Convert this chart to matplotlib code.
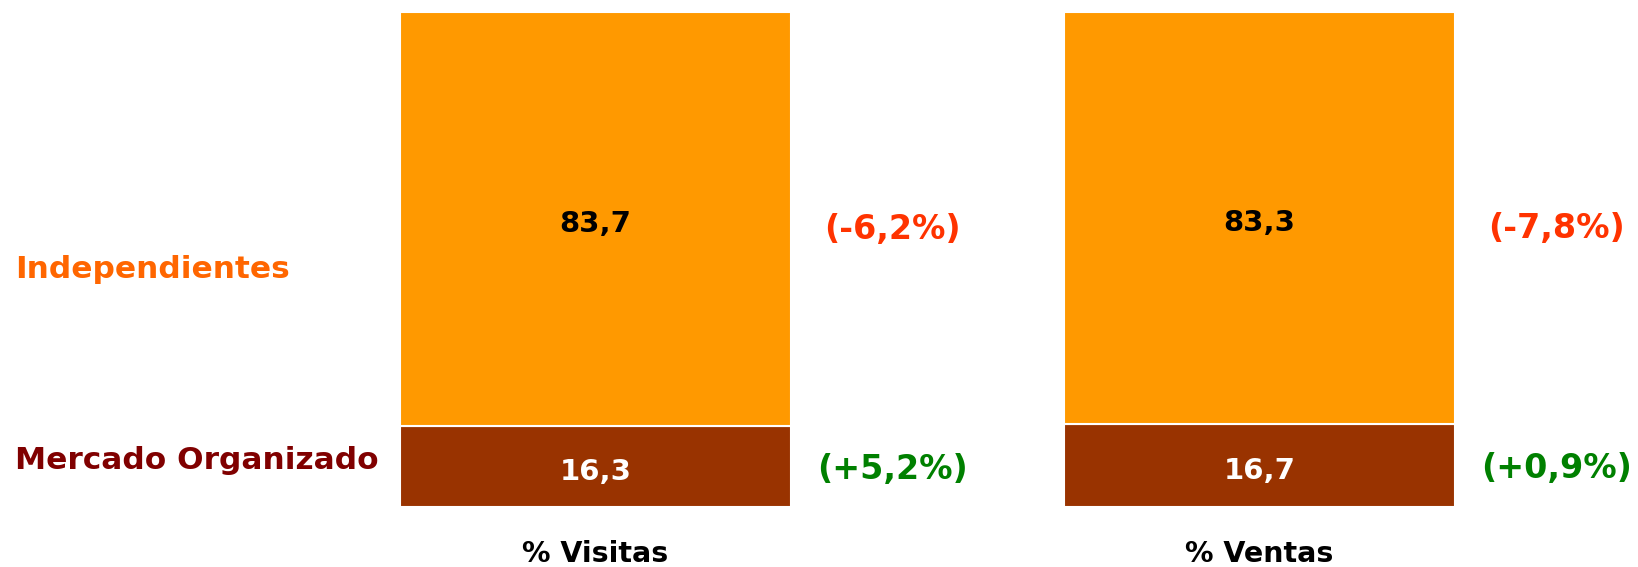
import matplotlib.pyplot as plt
import numpy as np

# Data
categorias = ["% Visitas", "% Ventas"]
mercado = [16.3, 16.7]          # Mercado Organizado
independientes = [83.7, 83.3]   # Independientes
var_mercado = ["(+5,2%)", "(+0,9%)"]
var_indep = ["(-6,2%)", "(-7,8%)"]
valor_fmt = lambda v: ("%.1f" % v).replace(".", ",")

plt.rcParams['font.family'] = ['DejaVu Sans']

fig = plt.figure(figsize=(16.38, 5.67), dpi=100)
ax = fig.add_axes([0, 60 / 567, 1, 495 / 567])

x = np.arange(len(categorias))
w = 0.589

ax.bar(x, mercado, w, color="#993300", edgecolor="white", linewidth=1.5)
ax.bar(x, independientes, w, bottom=mercado, color="#FF9900", edgecolor="white", linewidth=1.5)

for i in range(len(x)):
    ax.text(x[i], mercado[i] / 2 - 1, valor_fmt(mercado[i]), ha="center", va="center",
            color="white", fontsize=21, fontweight="bold")
    ax.text(x[i], mercado[i] + independientes[i] / 2 - 1, valor_fmt(independientes[i]),
            ha="center", va="center", color="black", fontsize=21, fontweight="bold")
    ax.text(x[i] + 0.447, mercado[i] / 2 - 0.5, var_mercado[i], ha="center", va="center",
            color="#008000", fontsize=24, fontweight="bold")
    ax.text(x[i] + 0.447, mercado[i] + independientes[i] / 2 - 2, var_indep[i], ha="center",
            va="center", color="#FF3300", fontsize=24, fontweight="bold")
    ax.text(x[i], -9.5, categorias[i], ha="center", va="center", color="black",
            fontsize=20.5, fontweight="bold")

ax.text(-0.874, 48, "Independientes", ha="left", va="center", color="#FF6600",
        fontsize=22.5, fontweight="bold")
ax.text(-0.874, 9.3, "Mercado Organizado", ha="left", va="center", color="#800000",
        fontsize=22.5, fontweight="bold")

ax.set_xlim(-595.5 / 664, (1638 - 595.5) / 664)
ax.set_ylim(0, 100)
ax.axis("off")

fig.savefig("out.png", dpi=100)
